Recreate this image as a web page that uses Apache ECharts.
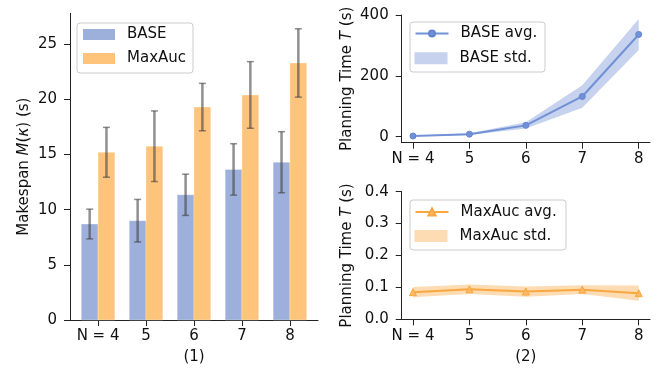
<!DOCTYPE html>
<html><head><meta charset="utf-8">
<script src="https://cdn.jsdelivr.net/npm/echarts@6/dist/echarts.min.js"></script>
<style>html,body{margin:0;padding:0;background:#fff}#c{width:665px;height:371px}</style>
</head><body><div id="c"></div>
<script>
// ---- data ----
var Ns = [4, 5, 6, 7, 8];
var xTickLabels = ['N = 4', '5', '6', '7', '8'];
var makespanBase = [8.7, 9.0, 11.35, 13.65, 14.3];
var makespanBaseStd = [1.35, 1.93, 1.87, 2.33, 2.77];
var makespanMaxAuc = [15.2, 15.75, 19.3, 20.4, 23.3];
var makespanMaxAucStd = [2.26, 3.2, 2.15, 3.02, 3.1];
var planBaseAvg = [2, 8, 37, 132, 336];
var planBaseStd = [1, 3, 10, 37, 51];
var planMaxAucAvg = [0.085, 0.094, 0.087, 0.093, 0.082];
var planMaxAucStd = [0.016, 0.015, 0.016, 0.014, 0.024];
var leftYTicks = [0, 5, 10, 15, 20, 25];
var topYTicks = [0, 200, 400];
var bottomYTicks = [0, 0.1, 0.2, 0.3, 0.4];

// ---- style ----
var FONT = 'DejaVu Sans';
var FS = 15;
var TXT = '#111';
var AX = '#222';
var cBaseBar = '#9db0db', cMaxBar = '#fec47b';
var cBaseLine = '#7191d6', cBaseBand = '#c6d2ee';
var cMaxLine = '#f9a73e', cMaxBand = '#fddcb3';
var barW = 0.35;

var chart = echarts.init(document.getElementById('c'), null, {renderer: 'canvas'});

function axisCommon() {
  return {
    axisLine: {show: true, onZero: false, lineStyle: {color: AX, width: 1}},
    axisTick: {show: true, length: 6, lineStyle: {color: AX, width: 1}},
    splitLine: {show: false},
    axisLabel: {color: TXT, fontFamily: FONT, fontSize: FS, margin: 9}
  };
}
function xAxisDef(gi, min, max, vals, labFn, name) {
  var a = axisCommon();
  a.type = 'value'; a.gridIndex = gi; a.min = min; a.max = max;
  a.axisTick.customValues = vals;
  a.axisLabel.customValues = vals;
  a.axisLabel.formatter = labFn;
  if (name) {
    a.name = name; a.nameLocation = 'middle'; a.nameGap = 30;
    a.nameTextStyle = {color: TXT, fontFamily: FONT, fontSize: FS};
  }
  return a;
}
function yAxisDef(gi, min, max, vals, labFn, name, gap) {
  var a = axisCommon();
  a.type = 'value'; a.gridIndex = gi; a.min = min; a.max = max;
  a.axisTick.customValues = vals;
  a.axisLabel.customValues = vals;
  a.axisLabel.formatter = labFn;
  a.axisLabel.margin = 13;
  a.name = name; a.nameLocation = 'middle'; a.nameRotate = 90; a.nameGap = gap;
  a.nameTextStyle = {color: TXT, fontFamily: FONT, fontSize: FS,
    rich: {r: {fontFamily: FONT, fontSize: FS, color: TXT}, i: {fontFamily: FONT, fontSize: FS, color: TXT, fontStyle: 'italic'}}};
  return a;
}

function barItem(offset, color) {
  return function (params, api) {
    var i = api.value(0), v = api.value(1);
    var p0 = api.coord([i + offset - barW / 2, v]);
    var p1 = api.coord([i + offset + barW / 2, 0]);
    return {type: 'rect', shape: {x: p0[0], y: p0[1], width: p1[0] - p0[0], height: p1[1] - p0[1]},
      style: {fill: color, stroke: 'rgba(255,255,255,0.5)', lineWidth: 0.6}};
  };
}
function errItem(offset) {
  return function (params, api) {
    var i = api.value(0), m = api.value(1), s = api.value(2);
    var top = api.coord([i + offset, m + s]);
    var bot = api.coord([i + offset, m - s]);
    var c = 'rgba(64,64,64,0.58)';
    return {type: 'group', children: [
      {type: 'line', shape: {x1: top[0], y1: top[1], x2: bot[0], y2: bot[1]}, style: {stroke: c, lineWidth: 2.5}},
      {type: 'line', shape: {x1: top[0] - 3.5, y1: top[1], x2: top[0] + 3.5, y2: top[1]}, style: {stroke: c, lineWidth: 1.5}},
      {type: 'line', shape: {x1: bot[0] - 3.5, y1: bot[1], x2: bot[0] + 3.5, y2: bot[1]}, style: {stroke: c, lineWidth: 1.5}}
    ]};
  };
}
function bandItem(xs, avg, sd, color) {
  return function (params, api) {
    if (params.dataIndex !== 0) return null;
    var pts = [], i;
    for (i = 0; i < xs.length; i++) pts.push(api.coord([xs[i], avg[i] + sd[i]]));
    for (i = xs.length - 1; i >= 0; i--) pts.push(api.coord([xs[i], avg[i] - sd[i]]));
    return {type: 'polygon', shape: {points: pts}, style: {fill: color}};
  };
}

var idx = Ns.map(function (n, i) { return i; });
var legendText = {color: TXT, fontFamily: FONT, fontSize: FS, lineHeight: 18, padding: [0, 0, 0, 7]};
function legendDef(left, top, data, w, h) {
  return {
    orient: 'vertical', left: left, top: top, itemWidth: w, itemHeight: h, itemGap: 6,
    padding: 0, textStyle: legendText, data: data, selectedMode: false, z: 20
  };
}
function frame(x, y, w, h) {
  return {type: 'rect', left: x, top: y, z: 10,
    shape: {width: w, height: h, r: 3},
    style: {fill: 'rgba(255,255,255,0.8)', stroke: '#cccccc', lineWidth: 1}};
}

var option = {
  animation: false,
  backgroundColor: '#fff',
  grid: [
    {left: 70, top: 13.3, width: 248, height: 306.7},
    {left: 401.7, top: 15, width: 248.3, height: 127.7},
    {left: 401.7, top: 191.7, width: 248.3, height: 127.6}
  ],
  xAxis: [
    xAxisDef(0, -0.585, 4.585, idx, function (v) { return xTickLabels[Math.round(v)]; }, '(1)'),
    xAxisDef(1, 3.8, 8.2, Ns, function (v) { return xTickLabels[Ns.indexOf(Math.round(v))]; }, null),
    xAxisDef(2, 3.8, 8.2, Ns, function (v) { return xTickLabels[Ns.indexOf(Math.round(v))]; }, '(2)')
  ],
  yAxis: [
    yAxisDef(0, 0, 27.8, leftYTicks, function (v) { return String(v); }, '{r|Makespan }{i|M}{r|(}{i|κ}{r|) (s)}', 38),
    yAxisDef(1, -20, 400, topYTicks, function (v) { return String(v); }, '{r|Planning Time }{i|T}{r| (s)}', 47),
    yAxisDef(2, 0, 0.4, bottomYTicks, function (v) { return v.toFixed(1); }, '{r|Planning Time }{i|T}{r| (s)}', 47)
  ],
  graphic: [
    frame(76.5, 22.5, 116, 50),
    frame(409.5, 21.5, 135, 50),
    frame(409.5, 199.5, 156, 50)
  ],
  legend: [
    legendDef(83, 25.5, [{name: 'BASE', icon: 'rect'}, {name: 'MaxAuc', icon: 'rect'}], 32, 11),
    legendDef(414.5, 24.5, [{name: 'BASE avg.'}], 33, 7.5),
    legendDef(414.5, 49.3, [{name: 'BASE std.', icon: 'rect', itemStyle: {color: cBaseBand}}], 33, 12),
    legendDef(414.5, 203, [{name: 'MaxAuc avg.'}], 33, 9),
    legendDef(414.5, 227, [{name: 'MaxAuc std.', icon: 'rect', itemStyle: {color: cMaxBand}}], 33, 12)
  ],
  series: [
    {name: 'BASE', type: 'custom', xAxisIndex: 0, yAxisIndex: 0, itemStyle: {color: cBaseBar},
      renderItem: barItem(-barW / 2, cBaseBar), data: idx.map(function (i) { return [i, makespanBase[i]]; }), z: 2},
    {name: 'MaxAuc', type: 'custom', xAxisIndex: 0, yAxisIndex: 0, itemStyle: {color: cMaxBar},
      renderItem: barItem(barW / 2, cMaxBar), data: idx.map(function (i) { return [i, makespanMaxAuc[i]]; }), z: 2},
    {name: 'errBase', type: 'custom', xAxisIndex: 0, yAxisIndex: 0, renderItem: errItem(-barW / 2),
      data: idx.map(function (i) { return [i, makespanBase[i], makespanBaseStd[i]]; }), z: 3},
    {name: 'errMax', type: 'custom', xAxisIndex: 0, yAxisIndex: 0, renderItem: errItem(barW / 2),
      data: idx.map(function (i) { return [i, makespanMaxAuc[i], makespanMaxAucStd[i]]; }), z: 3},

    {name: 'BASE std.', type: 'custom', xAxisIndex: 1, yAxisIndex: 1, itemStyle: {color: cBaseBand},
      renderItem: bandItem(Ns, planBaseAvg, planBaseStd, cBaseBand),
      data: Ns.map(function (n, i) { return [n, planBaseAvg[i] - planBaseStd[i], planBaseAvg[i] + planBaseStd[i]]; }), z: 1},
    {name: 'BASE avg.', type: 'line', xAxisIndex: 1, yAxisIndex: 1,
      data: Ns.map(function (n, i) { return [n, planBaseAvg[i]]; }),
      lineStyle: {color: cBaseLine, width: 2}, itemStyle: {color: cBaseLine, borderColor: '#6385cf', borderWidth: 1},
      symbol: 'circle', symbolSize: 6, showSymbol: true, z: 3},

    {name: 'MaxAuc std.', type: 'custom', xAxisIndex: 2, yAxisIndex: 2, itemStyle: {color: cMaxBand},
      renderItem: bandItem(Ns, planMaxAucAvg, planMaxAucStd, cMaxBand),
      data: Ns.map(function (n, i) { return [n, planMaxAucAvg[i] - planMaxAucStd[i], planMaxAucAvg[i] + planMaxAucStd[i]]; }), z: 1},
    {name: 'MaxAuc avg.', type: 'line', xAxisIndex: 2, yAxisIndex: 2,
      data: Ns.map(function (n, i) { return [n, planMaxAucAvg[i]]; }),
      lineStyle: {color: cMaxLine, width: 2}, itemStyle: {color: '#fbb866', borderColor: cMaxLine, borderWidth: 1},
      symbol: 'triangle', symbolSize: 7, showSymbol: true, z: 3}
  ]
};
chart.setOption(option);
</script></body></html>
